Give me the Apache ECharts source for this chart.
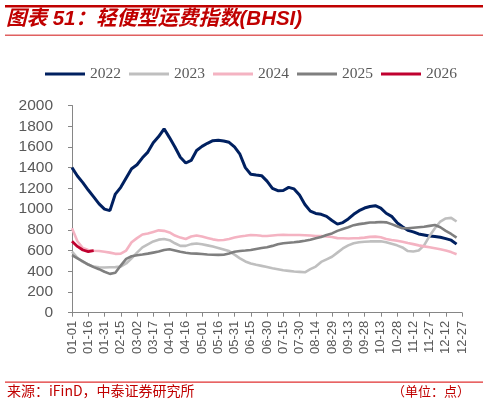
<!DOCTYPE html>
<html>
<head>
<meta charset="utf-8">
<script src="https://cdn.jsdelivr.net/npm/echarts@6/dist/echarts.min.js"></script>
<style>html,body{margin:0;padding:0;background:#fff;}#c{width:488px;height:406px;}</style>
</head>
<body>
<div id="c"></div>
<script>
var categories = [
'01-01','01-06','01-11','01-16','01-21','01-26','01-31',
'02-05','02-10','02-15','02-20','02-25',
'03-02','03-07','03-12','03-17','03-22','03-27',
'04-01','04-06','04-11','04-16','04-21','04-26',
'05-01','05-06','05-11','05-16','05-21','05-26','05-31',
'06-05','06-10','06-15','06-20','06-25','06-30',
'07-05','07-10','07-15','07-20','07-25','07-30',
'08-04','08-09','08-14','08-19','08-24','08-29',
'09-03','09-08','09-13','09-18','09-23','09-28',
'10-03','10-08','10-13','10-18','10-23','10-28',
'11-02','11-07','11-12','11-17','11-22','11-27',
'12-02','12-07','12-12','12-17','12-22','12-27'];

var s2022 = [1400,1320,1255,1184,1118,1050,1000,985,1145,1210,
1300,1390,1428,1495,1550,1640,1700,1775,1690,1600,
1500,1445,1470,1565,1605,1635,1660,1665,1657,1645,
1600,1530,1400,1336,1329,1323,1270,1200,1178,1180,
1210,1195,1136,1045,980,958,950,930,890,855,
870,905,950,985,1010,1025,1033,1010,960,930,
870,830,795,780,760,750,740,735,728,715,
700,662,null];

var s2023 = [590,530,490,465,445,438,436,438,440,445,
475,525,580,630,660,688,705,712,700,670,
645,645,662,668,660,650,638,625,610,595,
560,525,495,475,462,452,442,430,420,410,
404,398,394,390,420,445,490,515,540,580,
620,650,670,680,685,688,688,690,680,665,
650,630,595,590,600,650,740,815,880,910,
915,880,null];

var s2024 = [815,690,625,605,598,595,588,580,568,570,
600,680,720,755,765,780,795,790,775,745,
725,712,735,745,735,722,708,700,702,712,
725,735,742,750,748,742,740,745,750,752,
750,750,750,748,745,740,740,735,730,720,
718,716,718,720,725,732,734,728,712,702,
695,685,672,662,650,640,632,622,612,600,
585,565,null];

var s2025 = [555,525,495,465,440,420,395,375,385,455,
520,545,555,562,570,580,590,605,612,600,
588,578,572,570,566,562,560,558,560,572,
588,596,600,605,615,625,632,645,660,670,
675,680,686,695,705,718,730,750,765,790,
808,825,845,855,862,870,872,876,872,855,
835,815,815,820,825,830,838,846,825,790,
760,725,null];

var s2026 = [690,640,605,590,600];

var yTicks = {min:0, max:2000, interval:200};
var names = ['2022','2023','2024','2025','2026'];
var colors = ['#002060','#bfbfbf','#f4b3c2','#7f7f7f','#c0002f'];
var widths = [3,2.6,2.6,2.6,2.8];
var seriesData = [s2022,s2023,s2024,s2025,s2026];

var chart = echarts.init(document.getElementById('c'));
var grey = '#595959';
chart.setOption({
  animation:false,
  backgroundColor:'#fff',
  graphic:[
    {type:'rect',shape:{x:5,y:5,width:478,height:2.4},style:{fill:'#c00000'}},
    {type:'text',left:6,top:9,style:{text:'图表 51：轻便型运费指数(BHSI)',fill:'#c00000',
      font:'italic bold 20.5px "Liberation Sans","Noto Sans CJK SC",sans-serif'}},
    {type:'rect',shape:{x:5,y:34.5,width:478,height:1.5},style:{fill:'#e06060'}},
    {type:'rect',shape:{x:5,y:381.5,width:478,height:1.2},style:{fill:'#e03030'}},
    {type:'text',left:7,top:384,style:{text:'来源：iFinD，中泰证券研究所',fill:'#c00000',
      font:'14px "Noto Sans CJK SC",sans-serif'}},
    {type:'text',right:18,top:385,style:{text:'（单位：点）',fill:'#c00000',
      font:'13px "Noto Sans CJK SC",sans-serif'}}
  ],
  legend:{
    data:names.map(function(n,i){return {name:n,icon:'rect',itemStyle:{color:colors[i]}};}),
    left:40, top:61, itemWidth:40, itemHeight:3, itemGap:8,
    textStyle:{color:grey,fontSize:15.5,fontFamily:'"Liberation Serif",serif'}
  },
  grid:{left:72,right:26,top:105.5,bottom:93.3,containLabel:false},
  xAxis:{
    type:'category', boundaryGap:false, data:categories,
    axisLine:{lineStyle:{color:'#868686',width:1}},
    axisTick:{interval:2,length:4,lineStyle:{color:'#868686'}},
    axisLabel:{interval:2,rotate:90,fontSize:13,color:grey,margin:8,fontFamily:'"Liberation Sans",Arial,sans-serif'},
    splitLine:{show:false}
  },
  yAxis:{
    type:'value', min:yTicks.min, max:yTicks.max, interval:yTicks.interval,
    axisLine:{show:true,lineStyle:{color:'#868686',width:1}},
    axisTick:{show:true,length:4,lineStyle:{color:'#868686'}},
    axisLabel:{fontSize:15.5,color:grey,margin:19,fontFamily:'"Liberation Sans",Arial,sans-serif',
      formatter:function(v){return String(v);}},
    splitLine:{show:false}
  },
  series:names.map(function(n,i){
    return {name:n,type:'line',data:seriesData[i],showSymbol:false,symbol:'none',
      lineStyle:{color:colors[i],width:widths[i]},itemStyle:{color:colors[i]},
      connectNulls:false};
  })
});
</script>
</body>
</html>
